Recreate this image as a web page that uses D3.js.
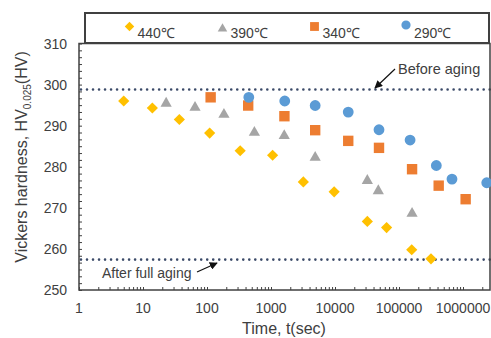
<!DOCTYPE html>
<html><head><meta charset="utf-8">
<script src="https://cdn.jsdelivr.net/npm/d3@7"></script>
<style>
html,body{margin:0;padding:0;background:#fff;}
svg{display:block;font-family:"Liberation Sans",Arial,sans-serif;}
</style></head>
<body>
<svg id="c" width="491" height="338"></svg>
<script>
// ---- data ----
const seriesNames = ["440℃","390℃","340℃","290℃"];
const t440 = [5, 14, 37, 110, 330, 1060, 3200, 9700, 32000, 64000, 158000, 316000];
const hv440 = [296.0, 294.3, 291.5, 288.2, 283.9, 282.8, 276.3, 273.9, 266.7, 265.2, 259.8, 257.6];
const t390 = [23, 65, 184, 550, 1610, 4900, 32000, 47500, 160000];
const hv390 = [295.8, 294.8, 293.1, 288.7, 287.9, 282.6, 277.0, 274.5, 269.0];
const t340 = [114, 440, 1620, 4900, 16100, 48700, 160000, 417000, 1100000];
const hv340 = [296.9, 294.9, 292.3, 288.9, 286.3, 284.6, 279.4, 275.4, 272.1];
const t290 = [450, 1640, 4900, 16100, 48700, 149000, 383000, 673000, 2350000];
const hv290 = [296.9, 296.0, 294.9, 293.3, 289.0, 286.5, 280.3, 277.0, 276.1];
const xTickValues = [1, 10, 100, 1000, 10000, 100000, 1000000];
const yTickValues = [250, 260, 270, 280, 290, 300, 310];
const refLines = [{value: 298.8, label: "Before aging"}, {value: 257.4, label: "After full aging"}];

const colors = ["#FFC000", "#A5A5A5", "#ED7D31", "#5B9BD5"];
const shapes = ["diamond", "triangle", "square", "circle"];
const series = [
  {name: seriesNames[0], t: t440, hv: hv440},
  {name: seriesNames[1], t: t390, hv: hv390},
  {name: seriesNames[2], t: t340, hv: hv340},
  {name: seriesNames[3], t: t290, hv: hv290}
];

// ---- layout ----
const L = 79, R = 490, T = 43.5, B = 290;
const svg = d3.select("#c");
const x = d3.scaleLog().domain([1, Math.pow(10, (R - L) / 64)]).range([L, R]);
const y = d3.scaleLinear().domain([250, 310]).range([B, T]);
const txt = "#404040";

function shapePath(s) {
  if (s === "diamond") return "M0,-5.6L5.6,0L0,5.6L-5.6,0Z";
  if (s === "triangle") return "M0,-5L5.6,4.8L-5.6,4.8Z";
  if (s === "square") return "M-5.2,-5.2H5.2V5.2H-5.2Z";
  return d3.symbol(d3.symbolCircle, 92)();
}

// reference dotted lines
svg.append("g").selectAll("line").data(refLines).join("line")
  .attr("x1", L + 2).attr("x2", R)
  .attr("y1", d => y(d.value)).attr("y2", d => y(d.value))
  .attr("stroke", "#3B4A68").attr("stroke-width", 2.6)
  .attr("stroke-linecap", "round").attr("stroke-dasharray", "0.01 6");

// frame
svg.append("rect").attr("x", L).attr("y", T).attr("width", R - L).attr("height", B - T)
  .attr("fill", "none").attr("stroke", "#404040").attr("stroke-width", 1.5);

// x axis (ticks inside)
const xMinor = [];
for (let e = 0; e <= 6; e++) for (let m = 1; m <= 9; m++) {
  const v = m * Math.pow(10, e);
  if (v <= x.domain()[1]) xMinor.push(v);
}
svg.append("g").attr("transform", `translate(0,${B})`)
  .call(d3.axisBottom(x).tickValues(xMinor).tickSize(-3).tickFormat(""))
  .call(g => g.select(".domain").remove())
  .call(g => g.selectAll("line").attr("stroke", "#404040"));
svg.append("g").selectAll("text").data(xTickValues).join("text")
  .attr("x", d => x(d)).attr("y", 313).attr("text-anchor", "middle")
  .attr("font-size", 14).attr("fill", txt).text(d => String(d));

// y axis (ticks inside)
const yMinor = d3.range(0, 37).map(i => 250 + i * 10 / 6);
svg.append("g").attr("transform", `translate(${L},0)`)
  .call(d3.axisLeft(y).tickValues(yMinor).tickSize(-3).tickFormat(""))
  .call(g => g.select(".domain").remove())
  .call(g => g.selectAll("line").attr("stroke", "#404040"));
svg.append("g").selectAll("text").data(yTickValues).join("text")
  .attr("x", 67).attr("y", d => y(d) + 5).attr("text-anchor", "end")
  .attr("font-size", 14).attr("fill", txt).text(d => d);

// markers
series.forEach((s, i) => {
  svg.append("g").selectAll("path").data(s.t.map((t, j) => [t, s.hv[j]])).join("path")
    .attr("transform", d => `translate(${x(d[0])},${y(d[1])})`)
    .attr("d", shapePath(shapes[i])).attr("fill", colors[i]);
});

// axis titles
svg.append("text").attr("x", 284).attr("y", 334).attr("text-anchor", "middle")
  .attr("font-size", 16).attr("fill", txt).text("Time, t(sec)");
const yt = svg.append("text").attr("transform", "translate(27,157) rotate(-90)")
  .attr("text-anchor", "middle").attr("font-size", 16).attr("fill", txt);
yt.append("tspan").text("Vickers hardness, HV");
yt.append("tspan").attr("font-size", 10).attr("dy", 4).text("0.025");
yt.append("tspan").attr("dy", -4).text("(HV)");

// annotations
svg.append("defs").append("marker").attr("id", "ah").attr("viewBox", "0 0 10 10")
  .attr("refX", 9).attr("refY", 5).attr("markerWidth", 8).attr("markerHeight", 8)
  .attr("markerUnits", "userSpaceOnUse").attr("orient", "auto")
  .append("path").attr("d", "M0,0L10,5L0,10Z").attr("fill", "#111");
svg.append("line").attr("x1", 395).attr("y1", 69).attr("x2", 375).attr("y2", 88)
  .attr("stroke", "#111").attr("stroke-width", 1.2).attr("marker-end", "url(#ah)");
svg.append("text").attr("x", 398).attr("y", 74).attr("font-size", 14.5).attr("fill", txt).text(refLines[0].label);
svg.append("line").attr("x1", 197).attr("y1", 272).attr("x2", 217).attr("y2", 263)
  .attr("stroke", "#111").attr("stroke-width", 1.2).attr("marker-end", "url(#ah)");
svg.append("text").attr("x", 102).attr("y", 278).attr("font-size", 14).attr("fill", txt).text(refLines[1].label);

// legend
svg.append("rect").attr("x", 85).attr("y", 13).attr("width", 404).attr("height", 30)
  .attr("fill", "#fff").attr("stroke", "#404040").attr("stroke-width", 2);
const legX = [129.5, 222.5, 314.5, 406];
const legY = [26.5, 27.5, 26.5, 25];
series.forEach((s, i) => {
  svg.append("path").attr("transform", `translate(${legX[i]},${legY[i]}) scale(0.85)`)
    .attr("d", shapePath(shapes[i])).attr("fill", colors[i]);
  svg.append("text").attr("x", legX[i] + 8).attr("y", 38).attr("font-size", 14)
    .attr("fill", txt).text(s.name);
});
</script>
</body></html>
